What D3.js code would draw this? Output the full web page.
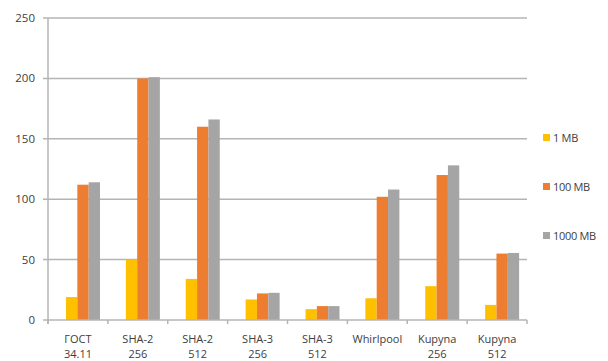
<!DOCTYPE html>
<html>
<head>
<meta charset="utf-8">
<script src="https://cdn.jsdelivr.net/npm/d3@7"></script>
<style>
  html, body { margin: 0; padding: 0; background: #fff; }
  svg { display: block; }
  text { font-family: "Open Sans", "Noto Sans", sans-serif; fill: #404040; }
</style>
</head>
<body>
<svg id="chart" width="608" height="361"></svg>
<script>
// Hash throughput per algorithm for three input sizes
const categories = [["ГОСТ", "34.11"], ["SHA-2", "256"], ["SHA-2", "512"], ["SHA-3", "256"],
                    ["SHA-3", "512"], ["Whirlpool", ""], ["Kupyna", "256"], ["Kupyna", "512"]];
const seriesNames = ["1 MB", "100 MB", "1000 MB"];
const values1MB    = [19, 50, 34, 17, 9, 18, 28, 12.5];
const values100MB  = [112, 200, 160, 22, 11.5, 102, 120, 55];
const values1000MB = [114, 201, 166, 22.5, 11.5, 108, 128, 55.5];
const colors = ["#FFC000", "#ED7D31", "#A5A5A5"];
const yTicks = [0, 50, 100, 150, 200, 250];

const seriesValues = [values1MB, values100MB, values1000MB];
const svg = d3.select("#chart");

const plot = { left: 48, right: 527, top: 18, bottom: 320 };

const x = d3.scaleBand()
  .domain(d3.range(categories.length))
  .range([plot.left, plot.right])
  .padding(0);

// bars sit in a cluster inside each category slot
const xInner = d3.scaleBand()
  .domain(d3.range(seriesNames.length))
  .range([18, 52])
  .padding(0);

const y = d3.scaleLinear().domain([0, 250]).range([plot.bottom, plot.top]);

// horizontal gridlines with small outward ticks
svg.append("g")
  .selectAll("line")
  .data(yTicks.filter(t => t > 0))
  .join("line")
  .attr("x1", plot.left - 5)
  .attr("x2", plot.right)
  .attr("y1", d => y(d))
  .attr("y2", d => y(d))
  .attr("stroke", "#b4b4b4")
  .attr("stroke-width", 1.5);

// y tick labels
svg.append("g")
  .selectAll("text")
  .data(yTicks)
  .join("text")
  .attr("x", 35)
  .attr("y", d => y(d))
  .attr("dy", "0.35em")
  .attr("text-anchor", "end")
  .attr("font-size", 11.5)
  .text(d => d);

// bars
const groups = svg.append("g")
  .selectAll("g")
  .data(categories.map((c, i) => i))
  .join("g")
  .attr("transform", i => `translate(${x(i)},0)`);

groups.selectAll("rect")
  .data(i => seriesValues.map((vals, s) => ({ s, v: vals[i] })))
  .join("rect")
  .attr("x", d => xInner(d.s))
  .attr("width", xInner.bandwidth())
  .attr("y", d => y(d.v))
  .attr("height", d => y(0) - y(d.v))
  .attr("fill", d => colors[d.s]);

// y axis line
svg.append("line")
  .attr("x1", plot.left).attr("x2", plot.left)
  .attr("y1", plot.top).attr("y2", plot.bottom + 4)
  .attr("stroke", "#b4b4b4").attr("stroke-width", 1.5);

// x axis baseline with ticks at slot boundaries
svg.append("line")
  .attr("x1", plot.left - 5).attr("x2", plot.right)
  .attr("y1", plot.bottom).attr("y2", plot.bottom)
  .attr("stroke", "#b4b4b4").attr("stroke-width", 1.5);

svg.append("g")
  .selectAll("line")
  .data(d3.range(categories.length + 1))
  .join("line")
  .attr("x1", i => plot.left + i * x.step())
  .attr("x2", i => plot.left + i * x.step())
  .attr("y1", plot.bottom)
  .attr("y2", plot.bottom + 4)
  .attr("stroke", "#b4b4b4").attr("stroke-width", 1.5);

// category labels, two lines each
const labels = svg.append("g")
  .selectAll("text")
  .data(categories)
  .join("text")
  .attr("text-anchor", "middle")
  .attr("font-size", 11)
  .attr("transform", (d, i) => `translate(${x(i) + x.bandwidth() / 2},343)`);

labels.selectAll("tspan")
  .data(d => d)
  .join("tspan")
  .attr("x", 0)
  .attr("dy", (d, j) => j === 0 ? 0 : 15)
  .text(d => d);

// legend
const legend = svg.append("g")
  .selectAll("g")
  .data(seriesNames)
  .join("g")
  .attr("transform", (d, i) => `translate(543,${138 + i * 49})`);

legend.append("rect")
  .attr("x", 0).attr("y", -4)
  .attr("width", 7).attr("height", 7)
  .attr("fill", (d, i) => colors[i]);

legend.append("text")
  .attr("x", 10)
  .attr("dy", "0.35em")
  .attr("font-size", 11)
  .attr("letter-spacing", -0.3)
  .text(d => d);
</script>
</body>
</html>
